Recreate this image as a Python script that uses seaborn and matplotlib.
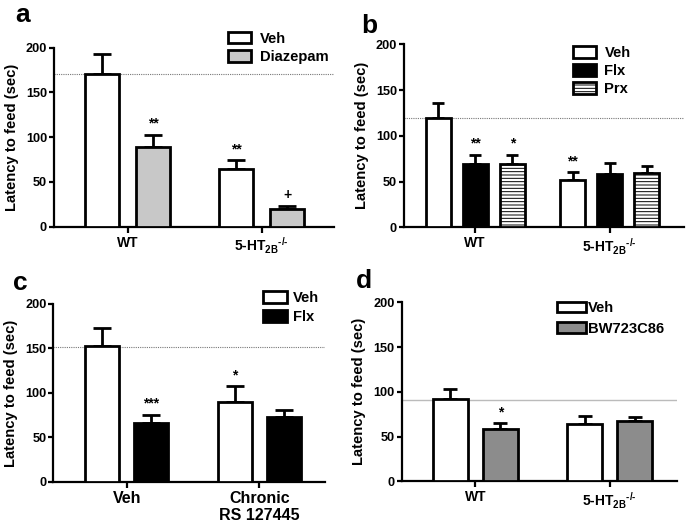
import matplotlib
matplotlib.use("Agg")
import matplotlib.pyplot as plt
import matplotlib.patches as mpatches
import seaborn as sns
import pandas as pd
import numpy as np

sns.set_style("ticks")
plt.rcParams['font.family'] = ['Liberation Sans', 'DejaVu Sans']
plt.rcParams['font.weight'] = 'bold'
plt.rcParams['text.color'] = 'black'
plt.rcParams['axes.labelcolor'] = 'black'
plt.rcParams['axes.edgecolor'] = 'black'
plt.rcParams['xtick.color'] = 'black'
plt.rcParams['ytick.color'] = 'black'
plt.rcParams['mathtext.fontset'] = 'custom'
plt.rcParams['mathtext.rm'] = 'Liberation Sans:bold'
plt.rcParams['mathtext.bf'] = 'Liberation Sans:bold'
plt.rcParams['mathtext.it'] = 'Liberation Sans:bold'
plt.rcParams['mathtext.default'] = 'rm'
plt.rcParams['hatch.linewidth'] = 0.7
plt.rcParams['hatch.color'] = 'black'

KO = "5-HT$_{2B}$$^{\\text{-/-}}$"

# ---- Panel a ----
a_groups = ["WT", KO]
a_treat = ["Veh", "Diazepam"]
a_vals = {"Veh": [171, 64.5], "Diazepam": [89, 20]}
a_err = {"Veh": [22, 9.5], "Diazepam": [14, 3.5]}
a_ref = 171
a_marks = {("Diazepam", 0): "**", ("Veh", 1): "**", ("Diazepam", 1): "+"}

# ---- Panel b ----
b_groups = ["WT", KO]
b_treat = ["Veh", "Flx", "Prx"]
b_vals = {"Veh": [120, 52], "Flx": [69.5, 58.5], "Prx": [69.3, 59.7]}
b_err = {"Veh": [16, 8], "Flx": [10, 11.5], "Prx": [10, 7.3]}
b_ref = 120
b_marks = {("Flx", 0): "**", ("Prx", 0): "*", ("Veh", 1): "**"}

# ---- Panel c ----
c_groups = ["Veh", "Chronic\nRS 127445"]
c_treat = ["Veh", "Flx"]
c_vals = {"Veh": [153, 89.3], "Flx": [66.2, 72.9]}
c_err = {"Veh": [19.7, 18], "Flx": [9.3, 8.2]}
c_ref = 151.4
c_marks = {("Flx", 0): "***", ("Veh", 1): "*"}

# ---- Panel d ----
d_groups = ["WT", KO]
d_treat = ["Veh", "BW723C86"]
d_vals = {"Veh": [92, 63.7], "BW723C86": [58.5, 67.4]}
d_err = {"Veh": [11.5, 9.3], "BW723C86": [6.3, 4.9]}
d_ref = 91.2
d_marks = {("BW723C86", 0): "*"}

yticks = [0, 50, 100, 150, 200]

fig = plt.figure(figsize=(6.86, 5.27), dpi=100)


def panel(rect, groups, treats, vals, errs, colors, hatches, ref, refstyle, marks,
          width, gap, xlim, capsize, xfs, leg_anchor, leg_kw, letter, letter_pos):
    ax = fig.add_axes(rect)
    rows = []
    for t in treats:
        for g, v in zip(groups, vals[t]):
            rows.append({"group": g, "treat": t, "val": v})
    df = pd.DataFrame(rows)
    sns.barplot(data=df, x="group", y="val", hue="treat", order=groups, hue_order=treats,
                palette=colors, saturation=1, edgecolor="black", linewidth=2,
                errorbar=None, width=width, gap=gap, legend=False, ax=ax, zorder=3)
    for cont, t in zip(ax.containers, treats):
        for i, bar in enumerate(cont.patches):
            bar.set_hatch(hatches[t])
            x = bar.get_x() + bar.get_width() / 2
            h = bar.get_height()
            e = errs[t][i]
            ax.errorbar([x], [h], yerr=[[0], [e]], fmt="none", ecolor="black",
                        elinewidth=2, capsize=capsize, capthick=2, zorder=2)
            if (t, i) in marks:
                ax.annotate(marks[(t, i)], (x, h + e), xytext=(0, 3),
                            textcoords="offset points", ha="center", va="bottom",
                            fontsize=10, fontweight="bold")
    ax.axhline(ref, **refstyle, zorder=1)
    ax.set_ylim(0, 200)
    ax.set_xlim(*xlim)
    ax.set_yticks(yticks)
    ax.set_yticklabels([str(t) for t in yticks], fontsize=9.2, fontweight="bold")
    ax.set_xticks([0, 1])
    ax.set_xticklabels(groups, fontsize=xfs, fontweight="bold")
    ax.set_xlabel("")
    ax.set_ylabel("Latency to feed (sec)", fontsize=10.6, fontweight="bold", labelpad=5)
    for s in ["top", "right"]:
        ax.spines[s].set_visible(False)
    for s in ["left", "bottom"]:
        ax.spines[s].set_linewidth(1.6)
    ax.tick_params(axis="y", width=1.6, length=3.5, direction="out", pad=1.5)
    ax.tick_params(axis="x", width=1.6, length=4.5, direction="out", pad=2)
    handles = [mpatches.Patch(facecolor=colors[t], edgecolor="black", linewidth=2,
                              hatch=hatches[t], label=t) for t in treats]
    ax.legend(handles=handles, loc="upper left", bbox_to_anchor=leg_anchor,
              bbox_transform=fig.transFigure, frameon=False, borderpad=0,
              borderaxespad=0, prop={"weight": "bold", "size": 10.6}, **leg_kw)
    fig.text(letter_pos[0], letter_pos[1], letter, fontsize=19, fontweight="bold",
             va="baseline", ha="left")
    return ax


dotted = dict(color="#777777", linestyle=(0, (1, 1)), linewidth=0.8)
solid = dict(color="#bbbbbb", linestyle="-", linewidth=1.0)

panel([0.0787, 0.5698, 0.408, 0.3397], a_groups, a_treat, a_vals, a_err,
      {"Veh": "white", "Diazepam": "#c8c8c8"}, {"Veh": "", "Diazepam": ""},
      a_ref, dotted, a_marks, 0.76, 0.34, (-0.55, 1.54), 6.5, 10,
      (0.333, 0.94), dict(handlelength=1.55, handleheight=0.82, handletextpad=0.6,
                          labelspacing=0.32),
      "a", (0.022, 0.958))

panel([0.589, 0.5687, 0.408, 0.347], b_groups, b_treat, b_vals, b_err,
      {"Veh": "white", "Flx": "black", "Prx": "white"}, {"Veh": "", "Flx": "", "Prx": "-----"},
      b_ref, dotted, b_marks, 0.825, 0.33, (-0.528, 1.55), 4.5, 10,
      (0.835, 0.912), dict(handlelength=1.55, handleheight=0.87, handletextpad=0.6,
                           labelspacing=0.27),
      "b", (0.526, 0.937))

panel([0.0778, 0.0854, 0.396, 0.338], c_groups, c_treat, c_vals, c_err,
      {"Veh": "white", "Flx": "black"}, {"Veh": "", "Flx": ""},
      c_ref, dotted, c_marks, 0.744, 0.31, (-0.553, 1.495), 6.5, 11.5,
      (0.383, 0.448), dict(handlelength=1.65, handleheight=0.87, handletextpad=0.4,
                           labelspacing=0.35),
      "c", (0.019, 0.45))

panel([0.5855, 0.0867, 0.402, 0.3397], d_groups, d_treat, d_vals, d_err,
      {"Veh": "white", "BW723C86": "#8c8c8c"}, {"Veh": "", "BW723C86": ""},
      d_ref, solid, d_marks, 0.744, 0.31, (-0.548, 1.504), 5.0, 10,
      (0.812, 0.428), dict(handlelength=2.0, handleheight=0.68, handletextpad=0.1,
                           labelspacing=0.42),
      "d", (0.519, 0.4535))

fig.savefig("out.png", dpi=100)
